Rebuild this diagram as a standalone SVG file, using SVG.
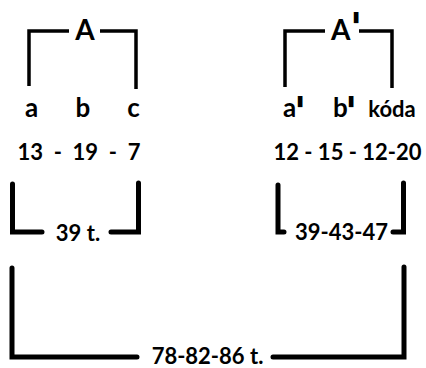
<svg xmlns="http://www.w3.org/2000/svg" width="426" height="368" viewBox="0 0 426 368">
  <style>
    text { font-family: Lato, "Liberation Sans", sans-serif; font-weight: bold; fill: #000; }
    .thin { fill: none; stroke: #000; stroke-width: 3.5; stroke-linejoin: miter; stroke-linecap: butt; }
    .thick { fill: none; stroke: #000; stroke-width: 5; stroke-linejoin: miter; stroke-linecap: round; }
    .big { font-size: 28px; }
    .part { font-size: 26px; }
    .num { font-size: 22px; }
    .prime { font-family: "DejaVu Sans", sans-serif; font-size: 40px; }
  </style>
  <rect width="426" height="368" fill="#fff"/>

  <!-- brackets -->
  <g id="connectors">
    <!-- A -->
    <path class="thin" d="M29,86 V31 H69 M100,31 H136 V89"/>
    <!-- A' -->
    <path class="thin" d="M285,87 V31 H325 M359,31 H392 V88"/>
    <!-- 39 t. -->
    <path class="thick" d="M12.5,184 V232 H42 M111,232 H138.5 V183"/>
    <!-- 39-43-47 -->
    <path class="thick" d="M278,185 V232 H284 M393,232 H403.5 V183"/>
    <!-- 78-82-86 t. -->
    <path class="thick" d="M12,268 V357 H137 M273,357 H404 V267"/>
  </g>

  <g id="section-a">
    <text class="big" x="85" y="40" text-anchor="middle">A</text>
    <text class="part" x="31.5" y="117" text-anchor="middle">a</text>
    <text class="part" x="83" y="117" text-anchor="middle">b</text>
    <text class="part" x="133.5" y="117" text-anchor="middle">c</text>
    <text class="num" x="79" y="160" text-anchor="middle" xml:space="preserve">13  -  19  -  7</text>
    <text class="num" x="78" y="241" text-anchor="middle">39 t.</text>
  </g>

  <g id="section-a-prime">
    <text class="big" x="331" y="40">A<tspan class="prime" x="350" y="42">'</tspan></text>
    <text class="part" x="283" y="117">a<tspan class="prime" x="294" y="126">'</tspan></text>
    <text class="part" x="333" y="117">b<tspan class="prime" x="345" y="126">'</tspan></text>
    <text class="num" x="392" y="117" text-anchor="middle">kóda</text>
    <text class="num" x="347.5" y="160" text-anchor="middle">12 - 15 - 12-20</text>
    <text class="num" x="341.5" y="240" text-anchor="middle">39-43-47</text>
  </g>

  <g id="total">
    <text class="num" x="207.5" y="364" text-anchor="middle">78-82-86 t.</text>
  </g>
</svg>
